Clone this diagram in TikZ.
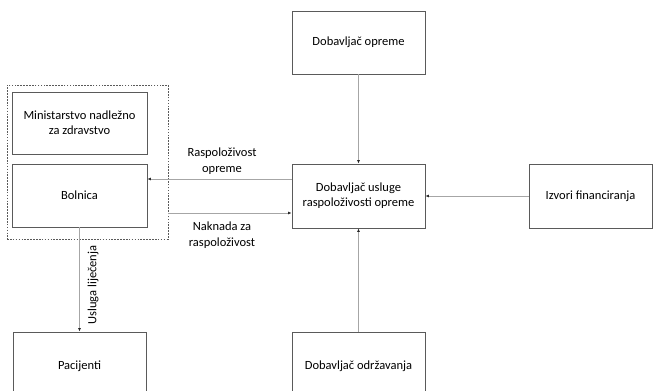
\documentclass[tikz,border=0pt]{standalone}
\usepackage{fontspec}
\setmainfont{Carlito}
\usetikzlibrary{arrows.meta}
\definecolor{boxc}{HTML}{5A5A5A}
\definecolor{linec}{HTML}{A6A6A6}
\begin{document}
\begin{tikzpicture}[x=1pt,y=-1pt,
  box/.style={draw=boxc,line width=0.9pt,align=center,inner sep=2pt,font=\fontsize{12.5}{15}\selectfont},
  conn/.style={draw=linec,line width=0.9pt,-{Latex[length=3.5pt,width=3pt,color=black!85]}},
  lbl/.style={align=center,font=\fontsize{12.5}{16}\selectfont,inner sep=0pt}]
\useasboundingbox (0,0) rectangle (654,391);
\clip (0,0) rectangle (654,391);
\node[box,minimum width=133pt,minimum height=63pt] (opr) at (358.5,42.5) {Dobavljač opreme};
\node[box,minimum width=133pt,minimum height=64pt] (cen) at (358.5,196) {Dobavljač usluge\\raspoloživosti opreme};
\node[box,minimum width=123pt,minimum height=64pt] (izv) at (590.5,196) {Izvori financiranja};
\node[box,minimum width=135pt,minimum height=62pt] (min) at (79.5,123) {Ministarstvo nadležno\\za zdravstvo};
\node[box,minimum width=135pt,minimum height=63pt] (bol) at (79.5,195.5) {Bolnica};
\node[draw=boxc,dash pattern=on 1.6pt off 1.3pt,line width=0.9pt,minimum width=161pt,minimum height=154pt,inner sep=0pt] (grp) at (87.5,162) {};
\node[box,minimum width=133pt,minimum height=118pt] (pac) at (79.5,391) {};
\node[font=\fontsize{12.5}{15}\selectfont] (pact) at (79.5,366) {Pacijenti};
\node[box,minimum width=133pt,minimum height=118pt] (odr) at (358.5,391) {};
\node[font=\fontsize{12.5}{15}\selectfont] (odrt) at (358.5,366) {Dobavljač održavanja};
\draw[conn] (opr) -- (cen);
\draw[conn] (odr) -- (cen);
\draw[conn] (izv) -- (cen);
\draw[conn] ([yshift=17pt]cen.west) -- ([yshift=17pt]cen.west -| bol.east);
\draw[conn] ([yshift=-17pt]cen.west -| grp.east) -- ([yshift=-17pt]cen.west);
\draw[conn] (bol.south) -- (bol.south |- pac.north);
\node[lbl] (l1) at (222,161) {Raspoloživost\\opreme};
\node[lbl] (l2) at (222,235) {Naknada za\\raspoloživost};
\node[lbl,rotate=90] (l3) at (93,285) {Usluga liječenja};
\end{tikzpicture}
\end{document}
